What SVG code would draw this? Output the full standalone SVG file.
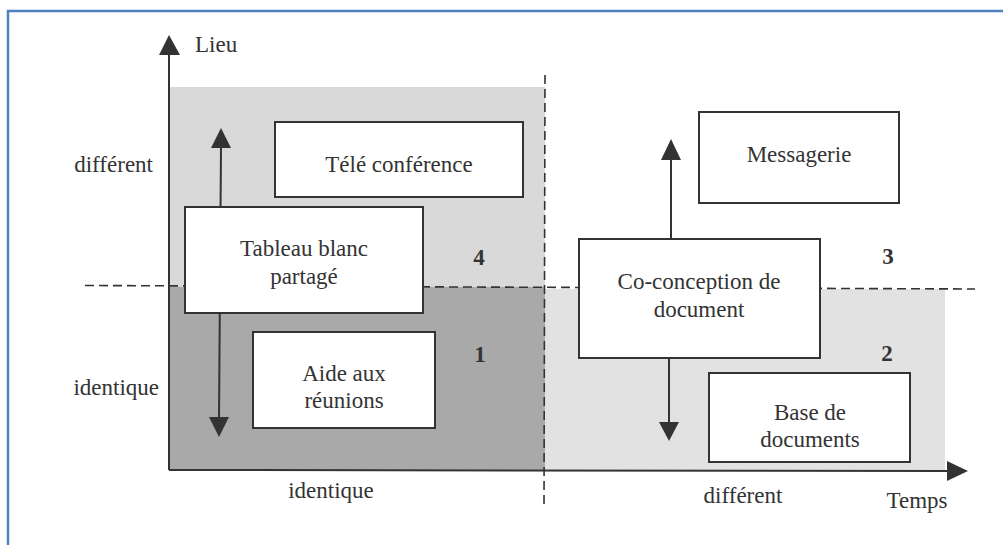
<svg xmlns="http://www.w3.org/2000/svg" width="1003" height="545" viewBox="0 0 1003 545">
  <style>
    text { font-family: 'Liberation Serif', 'DejaVu Serif', serif; font-size: 23px; fill: #333; }
    .num { font-weight: bold; }
    .box { fill: #fff; stroke: #333; stroke-width: 2; }
    .axis { stroke: #333; stroke-width: 2; fill: none; }
    .dash { stroke: #333; stroke-width: 1.6; stroke-dasharray: 9 5; fill: none; }
    .head { fill: #333; }
  </style>

  <!-- frame -->
  <rect x="0" y="0" width="1003" height="545" fill="#fff"/>
  <path d="M8,545 V11 H1003" fill="none" stroke="#4f81bd" stroke-width="2.5"/>

  <!-- quadrant shading -->
  <g id="quadrants">
    <rect x="169" y="87" width="376" height="200" fill="#d9d9d9"/>
    <rect x="169" y="287" width="376" height="183" fill="#a9a9a9"/>
    <rect x="545" y="289" width="400" height="181" fill="#e2e2e2"/>
  </g>

  <!-- axes, separators and arrows -->
  <g id="connectors">
    <line class="dash" x1="85" y1="285.5" x2="975" y2="289"/>
    <line class="dash" x1="545" y1="75" x2="544" y2="508"/>
    <!-- vertical axis: Lieu -->
    <line class="axis" x1="169" y1="470" x2="169" y2="54"/>
    <path class="head" d="M159,55 L169,35 L180,55 Z"/>
    <!-- horizontal axis: Temps -->
    <line class="axis" x1="169" y1="470" x2="948" y2="471"/>
    <path class="head" d="M947,461 L968,471 L947,481 Z"/>
    <!-- double arrow through the shared whiteboard -->
    <line class="axis" x1="221" y1="146" x2="219" y2="420"/>
    <path class="head" d="M211,148 L221,128 L231,148 Z"/>
    <path class="head" d="M209,417 L219,437 L229,417 Z"/>
    <!-- arrows out of co-design -->
    <line class="axis" x1="671" y1="239" x2="671" y2="158"/>
    <path class="head" d="M661,160 L671,139 L681,160 Z"/>
    <line class="axis" x1="669" y1="358" x2="669" y2="424"/>
    <path class="head" d="M659,422 L669,441 L679,422 Z"/>
  </g>

  <!-- nodes -->
  <g id="tele-conference">
    <rect class="box" x="275" y="122" width="248" height="75"/>
    <text x="399" y="172" text-anchor="middle">Télé conférence</text>
  </g>
  <g id="tableau-blanc">
    <rect class="box" x="185" y="207" width="238" height="106"/>
    <text x="304" y="256" text-anchor="middle">Tableau blanc</text>
    <text x="304" y="284" text-anchor="middle">partagé</text>
  </g>
  <g id="aide-reunions">
    <rect class="box" x="253" y="332" width="182" height="96"/>
    <text x="344" y="381" text-anchor="middle">Aide aux</text>
    <text x="344" y="408" text-anchor="middle">réunions</text>
  </g>
  <g id="messagerie">
    <rect class="box" x="699" y="112" width="200" height="91"/>
    <text x="799" y="162" text-anchor="middle">Messagerie</text>
  </g>
  <g id="co-conception">
    <rect class="box" x="579" y="239" width="241" height="119"/>
    <text x="699" y="289" text-anchor="middle">Co-conception de</text>
    <text x="699" y="317" text-anchor="middle">document</text>
  </g>
  <g id="base-documents">
    <rect class="box" x="709" y="373" width="201" height="89"/>
    <text x="810" y="420" text-anchor="middle">Base de</text>
    <text x="810" y="447" text-anchor="middle">documents</text>
  </g>

  <!-- quadrant numbers -->
  <g id="numbers">
    <text class="num" x="479" y="265" text-anchor="middle">4</text>
    <text class="num" x="480" y="362" text-anchor="middle">1</text>
    <text class="num" x="888" y="264" text-anchor="middle">3</text>
    <text class="num" x="887" y="361" text-anchor="middle">2</text>
  </g>

  <!-- axis labels -->
  <g id="axis-labels">
    <text x="195" y="52">Lieu</text>
    <text x="153" y="172" text-anchor="end">différent</text>
    <text x="159" y="395" text-anchor="end">identique</text>
    <text x="331" y="498" text-anchor="middle">identique</text>
    <text x="743" y="503" text-anchor="middle">différent</text>
    <text x="917" y="508" text-anchor="middle">Temps</text>
  </g>
</svg>
